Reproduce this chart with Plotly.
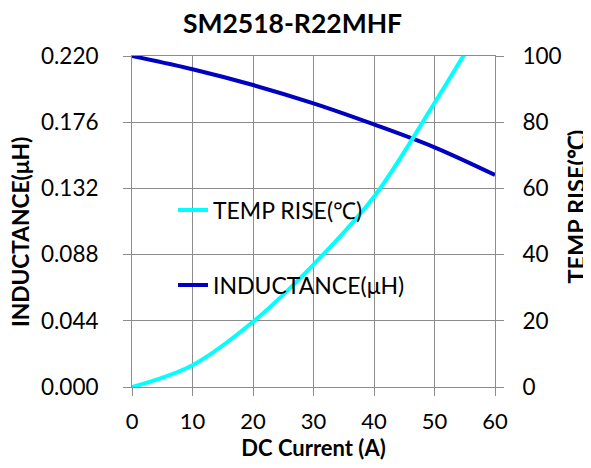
import plotly.graph_objects as go

current = [0, 10, 20, 30, 40, 50, 60]
inductance = [0.220, 0.2112, 0.2007, 0.1885, 0.1745, 0.1593, 0.1409]
temp_rise = [0, 6.6, 19.7, 37.0, 57.5, 85.8, 116.0]

x_ticks = [0, 10, 20, 30, 40, 50, 60]
y_ticks = [0.000, 0.044, 0.088, 0.132, 0.176, 0.220]
y2_ticks = [0, 20, 40, 60, 80, 100]

FONT = "Lato"
GRID = "#8c8c8c"

fig = go.Figure()
fig.add_trace(go.Scatter(
    x=current, y=temp_rise, name="TEMP RISE(℃)", yaxis="y2",
    mode="lines", line=dict(color="#00FFFF", width=4, shape="spline"),
    legend="legend",
))
fig.add_trace(go.Scatter(
    x=current, y=inductance, name="INDUCTANCE(μH)", yaxis="y",
    mode="lines", line=dict(color="#0000C0", width=4, shape="spline"),
    legend="legend2",
))

# page body has an 8px margin; figure is sized so it ends at the window edge
OFF = 8
W, H = 591 - OFF, 468 - OFF
L, T = 132 - OFF, 56 - OFF
R = W - (495 - OFF)
B = H - (387 - OFF)
pw = W - L - R
ph = H - T - B

def px_x(p):
    return (p - OFF - L) / pw

def px_y(p):
    return (H - B - (p - OFF)) / ph

fig.update_layout(
    width=W, height=H,
    margin=dict(l=L, r=R, t=T, b=B, autoexpand=False),
    paper_bgcolor="white", plot_bgcolor="white",
    font=dict(family=FONT, size=22, color="black"),
    title=dict(text="<b>SM2518-R22MHF</b>", x=(292.5 - OFF) / W, xref="container", xanchor="center",
               y=1 - 6 / H, yref="container", yanchor="top",
               font=dict(family=FONT, size=26.5, color="black")),
    xaxis=dict(
        range=[0, 60], tickvals=x_ticks, ticktext=[str(v) for v in x_ticks],
        showgrid=True, gridcolor=GRID, gridwidth=1,
        showline=True, linecolor=GRID, linewidth=1, mirror=True,
        ticks="outside", ticklen=8, tickcolor=GRID, tickwidth=1,
        ticklabelstandoff=7, zeroline=False, automargin=False,
        title=dict(text="<b>DC Current (A)</b>", standoff=4, font=dict(size=22)),
        tickfont=dict(size=22),
    ),
    yaxis=dict(
        range=[0, 0.220], tickvals=y_ticks, ticktext=[f"{v:.3f}" for v in y_ticks],
        showgrid=True, gridcolor=GRID, gridwidth=1,
        showline=True, linecolor=GRID, linewidth=1, mirror=True,
        ticks="outside", ticklen=8, tickcolor=GRID, tickwidth=1,
        ticklabelstandoff=20, zeroline=False, automargin=False,
        tickfont=dict(size=22.5),
    ),
    yaxis2=dict(
        range=[0, 100], tickvals=y2_ticks, ticktext=[str(v) for v in y2_ticks],
        overlaying="y", side="right", showgrid=False, zeroline=False,
        showline=False, ticks="outside", ticklen=8, tickcolor=GRID, tickwidth=1,
        ticklabelstandoff=14, automargin=False,
        tickfont=dict(size=22.5),
    ),
    legend=dict(x=px_x(173), y=px_y(210), xanchor="left", yanchor="middle",
                bgcolor="rgba(0,0,0,0)", font=dict(size=23, color="black")),
    legend2=dict(x=px_x(173), y=px_y(285), xanchor="left", yanchor="middle",
                 bgcolor="rgba(0,0,0,0)", font=dict(size=23, color="black")),
    showlegend=True,
    annotations=[
        dict(text="<b>INDUCTANCE(μH)</b>", textangle=-90, showarrow=False,
             xref="paper", yref="paper", x=px_x(20.5), y=px_y(232.5),
             xanchor="center", yanchor="middle", font=dict(size=22.7, color="black")),
        dict(text="<b>TEMP RISE(℃)</b>", textangle=-90, showarrow=False,
             xref="paper", yref="paper", x=px_x(575), y=px_y(206.5),
             xanchor="center", yanchor="middle", font=dict(size=23.5, color="black")),
    ],
)

fig.write_html("out.html")
